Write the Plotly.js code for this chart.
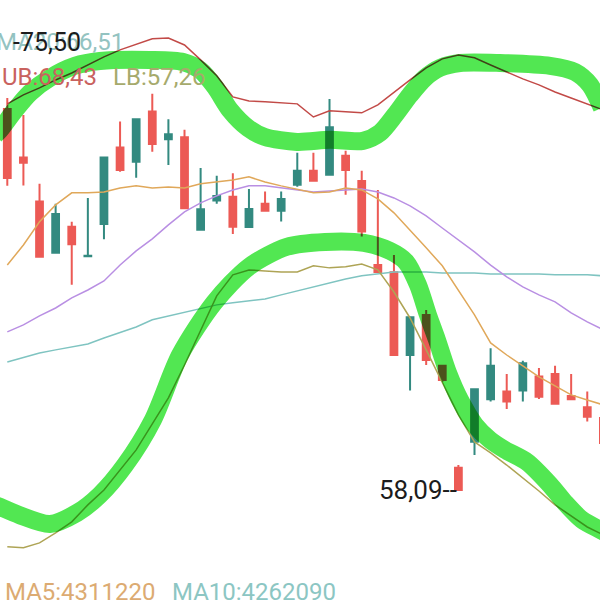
<!DOCTYPE html>
<html><head><meta charset="utf-8">
<script src="https://cdn.plot.ly/plotly-3.0.1.min.js"></script>
<style>
html,body{margin:0;padding:0;background:#fff;}
#chart{width:600px;height:600px;}
#chart .scatterlayer .trace:nth-child(n+6){mix-blend-mode:multiply;}
</style></head><body><div id="chart"></div>
<script>
// candle index (time slots)
const idx = [0,1,2,3,4,5,6,7,8,9,10,11,12,13,14,15,16,17,18,19,20,21,22,23,24,25,26,27,28,29,30,31,32,33,34,35,36,37];
const open  = [72.91,71.02,69.31,67.32,68.33,67.18,68.44,71.41,70.86,72.81,71.73,71.81,68.21,69.35,69.50,68.32,69.22,68.95,69.96,70.51,70.35,71.09,70.11,66.84,66.56,63.34,64.90,62.92,58.95,59.97,61.62,61.92,61.96,62.50,62.60,61.75,61.31,60.89];
const high  = [73.34,72.68,70.00,69.22,68.52,69.45,71.04,72.42,72.53,73.50,72.51,72.10,70.61,70.31,70.41,69.80,69.70,69.70,71.21,71.21,73.30,71.29,70.51,69.76,67.23,64.83,65.09,62.95,59.06,62.03,63.60,62.60,63.12,62.83,62.92,62.60,61.92,61.00];
const low   = [69.92,69.93,67.14,67.30,66.07,67.16,67.84,70.47,70.24,71.25,70.73,69.03,68.17,69.22,68.05,68.30,68.94,68.53,69.89,70.10,70.33,69.57,67.95,66.55,63.32,61.96,62.95,62.29,58.09,59.45,61.53,61.24,61.53,61.63,61.42,61.59,60.75,59.80];
const close = [70.23,70.82,67.16,68.83,67.65,67.20,71.02,70.54,72.51,71.55,71.93,69.05,69.01,69.53,68.33,69.02,68.95,69.41,70.51,70.12,72.20,70.54,68.14,66.57,63.34,64.81,63.15,62.37,58.09,62.01,62.92,61.53,63.02,61.72,61.44,61.62,60.94,59.92];

const ub   = [73.11,73.46,73.73,74.04,74.31,74.62,74.94,75.21,75.44,75.64,75.67,75.40,74.82,74.20,73.38,73.22,73.19,73.15,73.11,72.60,72.84,72.80,72.76,73.07,73.57,74.04,74.51,74.86,75.01,74.90,74.62,74.35,74.08,73.85,73.57,73.34,73.11,72.87];
const lb   = [55.88,55.84,56.03,56.42,56.85,57.51,58.09,58.87,59.65,60.66,61.67,62.95,64.32,65.64,66.46,66.65,66.61,66.57,66.57,66.81,66.73,66.77,66.88,66.65,65.79,64.78,63.54,62.29,61.01,59.96,59.53,59.06,58.56,58.05,57.51,57.08,56.65,56.34];
const ma5  = [66.84,67.62,68.52,69.18,69.65,69.65,69.68,69.84,69.92,69.84,69.88,69.84,70.00,70.07,70.15,70.27,70.07,69.92,69.80,69.65,69.68,69.84,69.76,69.41,68.87,68.21,67.51,66.81,65.87,64.90,63.81,63.34,62.92,62.49,62.14,61.79,61.59,61.40];
const ma10 = [64.24,64.51,64.86,65.17,65.56,65.87,66.22,66.84,67.39,67.86,68.40,68.91,69.26,69.53,69.76,69.92,69.92,69.84,69.76,69.68,69.72,69.76,69.80,69.68,69.45,69.14,68.75,68.28,67.82,67.35,66.84,66.38,65.99,65.68,65.41,64.98,64.63,64.32];
const ma20 = [63.07,63.23,63.42,63.54,63.65,63.77,64.00,64.20,64.43,64.71,64.86,65.02,65.17,65.29,65.37,65.44,65.52,65.68,65.83,65.99,66.14,66.30,66.42,66.49,66.57,66.57,66.57,66.53,66.53,66.53,66.49,66.49,66.49,66.49,66.46,66.46,66.46,66.42];

// hand-drawn green highlight strokes (index, price)
const markUpX = [-0.76,-0.45,0.48,1.41,2.65,4.20,5.75,8.86,10.91,11.96,12.89,13.82,14.94,15.99,17.98,20.03,22.08,23.13,24.07,25.00,25.93,26.86,28.10,30.58,33.69,35.24,36.17,36.91];
const markUpY = [71.90,72.10,72.87,73.54,74.12,74.59,74.78,74.82,74.74,74.43,73.77,72.87,72.17,71.82,71.63,71.71,71.67,71.98,72.68,73.46,74.12,74.51,74.70,74.70,74.59,74.35,73.85,72.95];
const markLoX = [-0.76,-0.45,0.73,2.65,4.33,5.75,7.31,9.04,10.72,12.83,15.00,17.36,19.72,22.14,23.75,24.75,25.49,26.11,26.67,27.36,28.10,29.03,29.96,30.89,32.26,33.69,34.62,35.67,36.79,37.54];
const markLoY = [57.51,57.43,57.12,56.77,57.20,57.90,59.06,60.82,63.34,65.37,66.77,67.55,67.74,67.70,67.39,66.96,66.07,64.90,63.93,62.64,61.59,60.62,60.04,59.65,59.18,58.29,57.59,56.93,56.54,56.30];

const labels = {
  ma20: 'MA20:66,51', ub: 'UB:68,43', lb: 'LB:57,26',
  maxText: '-75,50', maxVal: 75.50, minText: '58,09--', minVal: 58.09,
  vma5: 'MA5:4311220', vma10: 'MA10:4262090'
};

const RED = '#ec5a55', TEAL = '#338a80';
const lineTrace = (y, color, w) => ({x: idx, y: y, type: 'scatter', mode: 'lines', line: {color: color, width: w}, hoverinfo: 'skip', showlegend: false});
const markTrace = (x, y) => ({x: x, y: y, type: 'scatter', mode: 'lines', line: {color: 'rgb(82,231,82)', width: 18, shape: 'spline', smoothing: 0.8}, hoverinfo: 'skip', showlegend: false});

const data = [
  {x: idx, open: open, high: high, low: low, close: close, type: 'candlestick', whiskerwidth: 0,
   increasing: {line: {color: TEAL, width: 2}, fillcolor: TEAL},
   decreasing: {line: {color: RED, width: 2}, fillcolor: RED}, showlegend: false, hoverinfo: 'skip'},
  lineTrace(ma20, '#7fc4c1', 1.5),
  lineTrace(ma10, '#b98fe3', 1.5),
  lineTrace(ma5, '#e0a85a', 1.5),
  lineTrace(lb, '#aea455', 1.5),
  lineTrace(ub, '#c24a47', 1.5),
  markTrace(markUpX, markUpY),
  markTrace(markLoX, markLoY)
];

const F = 'Roboto, Arial, sans-serif';
const ann = (text, x, xref, y, yref, xanchor, color, size) => ({text: text, x: x, xref: xref, y: y, yref: yref, xanchor: xanchor, yanchor: 'middle', showarrow: false, font: {family: F, size: size || 24, color: color}});

const layout = {
  width: 600, height: 600,
  margin: {l: 0, r: 0, t: 0, b: 0},
  paper_bgcolor: '#ffffff', plot_bgcolor: '#ffffff',
  showlegend: false, boxgap: 0.4,
  xaxis: {range: [-0.453, 36.79], visible: false, showgrid: false, zeroline: false, rangeslider: {visible: false}, fixedrange: true},
  yaxis: {range: [53.81, 77.15], visible: false, showgrid: false, zeroline: false, fixedrange: true},
  annotations: [
    ann(labels.ma20, 126/600, 'paper', 1 - 42/600, 'paper', 'right', '#93c3c1'),
    ann(labels.maxText, 11/600, 'paper', labels.maxVal, 'y', 'left', '#1c1c1c', 25),
    ann(labels.ub, 99/600, 'paper', 1 - 77/600, 'paper', 'right', '#c9625e'),
    ann(labels.lb, 111/600, 'paper', 1 - 77/600, 'paper', 'left', '#a6aa6c'),
    ann(labels.minText, 459/600, 'paper', labels.minVal, 'y', 'right', '#1c1c1c', 26),
    ann(labels.vma5, 3/600, 'paper', 1 - 592/600, 'paper', 'left', '#dcab72'),
    ann(labels.vma10, 170/600, 'paper', 1 - 592/600, 'paper', 'left', '#8cc6c3')
  ]
};

Plotly.newPlot('chart', data, layout, {staticPlot: true, displayModeBar: false});
</script></body></html>
